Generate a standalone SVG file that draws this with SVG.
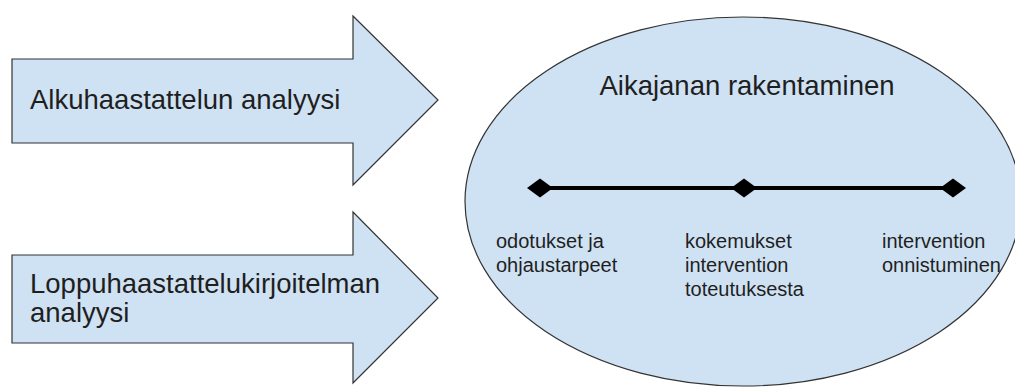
<svg xmlns="http://www.w3.org/2000/svg" width="1015" height="387" viewBox="0 0 1015 387">
<style>
.shape{fill:#cfe2f3;stroke:#333;stroke-width:1.2}
.big{font-family:"Liberation Sans",Arial,sans-serif;font-size:27.5px;fill:#1f1f1f}
.small{font-family:"Liberation Sans",Arial,sans-serif;font-size:20px;fill:#1f1f1f}
.tl{stroke:#000;stroke-width:4;fill:none}
.dm{fill:#000}
</style>
<rect width="1015" height="387" fill="#fff"/>
<g id="arrow1">
<path class="shape" d="M12 59 H353 V16 L438 100 L353 185 V143 H12 Z"/>
<text class="big" x="30" y="109">Alkuhaastattelun analyysi</text>
</g>
<g id="arrow2">
<path class="shape" d="M12 255 H353 V212 L438 298 L353 383 V343 H12 Z"/>
<text class="big" x="30" y="293">Loppuhaastattelukirjoitelman</text>
<text class="big" x="30" y="322">analyysi</text>
</g>
<g id="ellipse">
<ellipse class="shape" cx="743" cy="201.5" rx="278" ry="184.5"/>
<text class="big" x="747" y="95" text-anchor="middle">Aikajanan rakentaminen</text>
</g>
<g id="connectors">
<line class="tl" x1="540" y1="188" x2="953" y2="188"/>
</g>
<g id="point1">
<path class="dm" d="M527 188 L540 178.5 L553 188 L540 197.5 Z"/>
<text class="small" x="496" y="248">odotukset ja</text>
<text class="small" x="496" y="272">ohjaustarpeet</text>
</g>
<g id="point2">
<path class="dm" d="M731 188 L744 178.5 L757 188 L744 197.5 Z"/>
<text class="small" x="685" y="248">kokemukset</text>
<text class="small" x="685" y="272">intervention</text>
<text class="small" x="685" y="296">toteutuksesta</text>
</g>
<g id="point3">
<path class="dm" d="M940 188 L953 178.5 L966 188 L953 197.5 Z"/>
<text class="small" x="882" y="248">intervention</text>
<text class="small" x="882" y="272">onnistuminen</text>
</g>
</svg>
